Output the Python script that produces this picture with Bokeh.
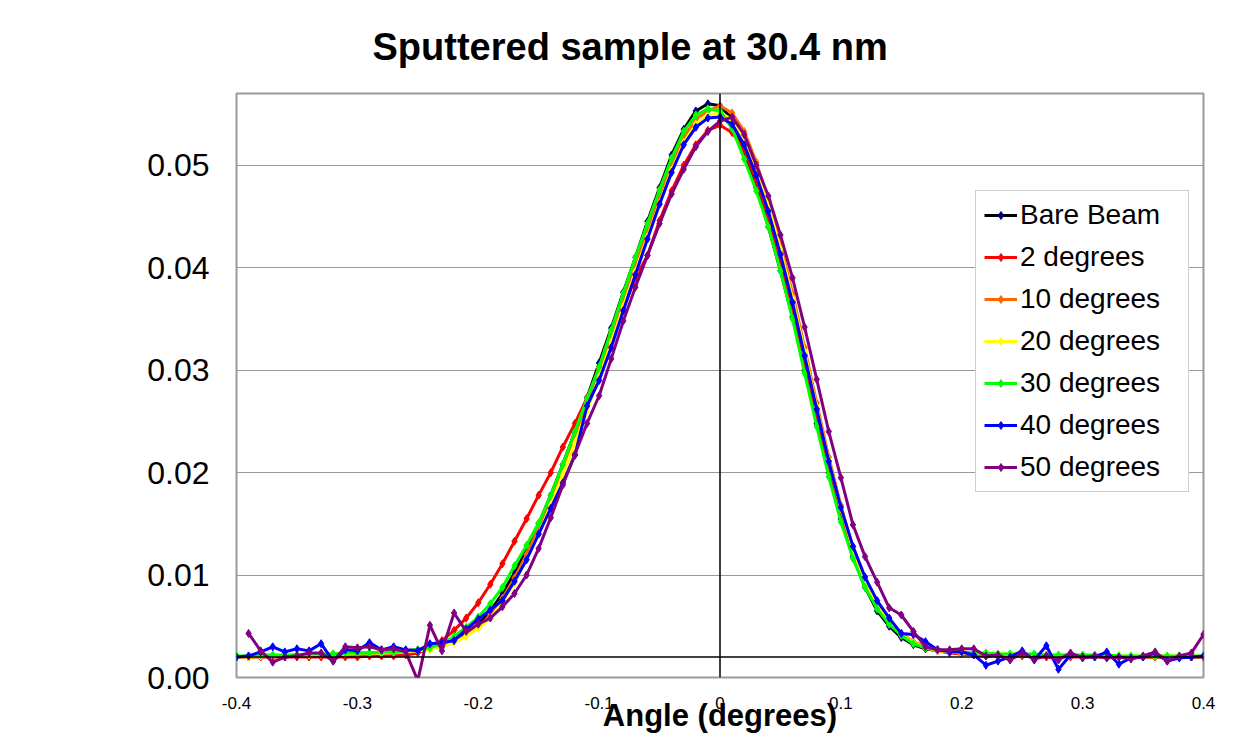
import numpy as np
from bokeh.plotting import figure
from bokeh.models import (Range1d, FixedTicker, NumeralTickFormatter,
                          Span, Legend, LegendItem, ColumnDataSource)
from bokeh.embed import file_html
from bokeh.resources import INLINE

angle = [-0.40, -0.39, -0.38, -0.37, -0.36, -0.35, -0.34, -0.33, -0.32, -0.31,
         -0.30, -0.29, -0.28, -0.27, -0.26, -0.25, -0.24, -0.23, -0.22, -0.21,
         -0.20, -0.19, -0.18, -0.17, -0.16, -0.15, -0.14, -0.13, -0.12, -0.11,
         -0.10, -0.09, -0.08, -0.07, -0.06, -0.05, -0.04, -0.03, -0.02, -0.01,
         0.00, 0.01, 0.02, 0.03, 0.04, 0.05, 0.06, 0.07, 0.08, 0.09,
         0.10, 0.11, 0.12, 0.13, 0.14, 0.15, 0.16, 0.17, 0.18, 0.19,
         0.20, 0.21, 0.22, 0.23, 0.24, 0.25, 0.26, 0.27, 0.28, 0.29,
         0.30, 0.31, 0.32, 0.33, 0.34, 0.35, 0.36, 0.37, 0.38, 0.39, 0.40]

bare_beam = [0.0020, 0.0020, 0.0021, 0.0021, 0.0021, 0.0022, 0.0022, 0.0022, 0.0023, 0.0023,
             0.0024, 0.0024, 0.0025, 0.0025, 0.0026, 0.0027, 0.0029, 0.0032, 0.0037, 0.0043,
             0.0052, 0.0065, 0.0082, 0.0102, 0.0125, 0.0150, 0.0178, 0.0208, 0.0240, 0.0273,
             0.0307, 0.0341, 0.0376, 0.0410, 0.0445, 0.0478, 0.0510, 0.0535, 0.0553, 0.0560,
             0.0558, 0.0545, 0.0513, 0.0478, 0.0440, 0.0397, 0.0352, 0.0300, 0.0248, 0.0200,
             0.0155, 0.0118, 0.0088, 0.0065, 0.0050, 0.0039, 0.0032, 0.0028, 0.0026, 0.0025,
             0.0024, 0.0023, 0.0023, 0.0022, 0.0022, 0.0022, 0.0022, 0.0021, 0.0021, 0.0021,
             0.0021, 0.0021, 0.0020, 0.0020, 0.0020, 0.0020, 0.0020, 0.0020, 0.0020, 0.0020, 0.0020]

deg2 = [0.0020, 0.0020, 0.0020, 0.0020, 0.0020, 0.0020, 0.0020, 0.0020, 0.0020, 0.0020,
        0.0020, 0.0021, 0.0021, 0.0021, 0.0022, 0.0024, 0.0029, 0.0036, 0.0046, 0.0058,
        0.0073, 0.0091, 0.0111, 0.0133, 0.0155, 0.0178, 0.0200, 0.0225, 0.0248, 0.0273,
        0.0300, 0.0330, 0.0360, 0.0390, 0.0412, 0.0446, 0.0475, 0.0500, 0.0520, 0.0534,
        0.0539, 0.0532, 0.0515, 0.0485, 0.0450, 0.0408, 0.0360, 0.0308, 0.0256, 0.0206,
        0.0160, 0.0122, 0.0092, 0.0069, 0.0053, 0.0042, 0.0034, 0.0029, 0.0026, 0.0024,
        0.0023, 0.0022, 0.0021, 0.0021, 0.0021, 0.0021, 0.0020, 0.0020, 0.0020, 0.0020,
        0.0020, 0.0020, 0.0020, 0.0020, 0.0020, 0.0020, 0.0020, 0.0020, 0.0020, 0.0020, 0.0020]

deg10 = [0.0020, 0.0021, 0.0021, 0.0021, 0.0021, 0.0022, 0.0022, 0.0022, 0.0022, 0.0023,
         0.0023, 0.0023, 0.0024, 0.0024, 0.0025, 0.0026, 0.0028, 0.0031, 0.0035, 0.0041,
         0.0049, 0.0061, 0.0077, 0.0097, 0.0120, 0.0146, 0.0174, 0.0204, 0.0236, 0.0269,
         0.0302, 0.0336, 0.0370, 0.0404, 0.0437, 0.0470, 0.0500, 0.0527, 0.0545, 0.0553,
         0.0558, 0.0551, 0.0533, 0.0503, 0.0466, 0.0423, 0.0375, 0.0322, 0.0268, 0.0215,
         0.0168, 0.0127, 0.0095, 0.0071, 0.0055, 0.0043, 0.0035, 0.0030, 0.0027, 0.0025,
         0.0024, 0.0023, 0.0023, 0.0022, 0.0022, 0.0022, 0.0021, 0.0021, 0.0021, 0.0021,
         0.0021, 0.0020, 0.0020, 0.0020, 0.0020, 0.0020, 0.0020, 0.0020, 0.0020, 0.0020, 0.0020]

deg20 = [0.0020, 0.0020, 0.0021, 0.0021, 0.0022, 0.0022, 0.0022, 0.0023, 0.0023, 0.0023,
         0.0024, 0.0024, 0.0024, 0.0025, 0.0025, 0.0026, 0.0027, 0.0030, 0.0034, 0.0040,
         0.0048, 0.0058, 0.0073, 0.0092, 0.0115, 0.0140, 0.0168, 0.0198, 0.0229, 0.0260,
         0.0293, 0.0327, 0.0362, 0.0396, 0.0430, 0.0463, 0.0495, 0.0522, 0.0540, 0.0549,
         0.0551, 0.0545, 0.0526, 0.0497, 0.0461, 0.0418, 0.0370, 0.0318, 0.0264, 0.0212,
         0.0165, 0.0125, 0.0093, 0.0070, 0.0054, 0.0042, 0.0034, 0.0029, 0.0026, 0.0025,
         0.0024, 0.0024, 0.0023, 0.0023, 0.0023, 0.0023, 0.0022, 0.0022, 0.0022, 0.0022,
         0.0022, 0.0022, 0.0021, 0.0021, 0.0021, 0.0021, 0.0021, 0.0021, 0.0021, 0.0021, 0.0021]

deg30 = [0.0021, 0.0021, 0.0022, 0.0022, 0.0022, 0.0022, 0.0023, 0.0023, 0.0023, 0.0024,
         0.0024, 0.0024, 0.0025, 0.0025, 0.0026, 0.0027, 0.0029, 0.0033, 0.0040, 0.0049,
         0.0059, 0.0072, 0.0088, 0.0109, 0.0129, 0.0151, 0.0178, 0.0208, 0.0240, 0.0272,
         0.0303, 0.0339, 0.0375, 0.0410, 0.0443, 0.0476, 0.0507, 0.0533, 0.0549, 0.0555,
         0.0553, 0.0536, 0.0506, 0.0475, 0.0440, 0.0397, 0.0350, 0.0297, 0.0245, 0.0196,
         0.0152, 0.0116, 0.0088, 0.0067, 0.0052, 0.0041, 0.0033, 0.0029, 0.0027, 0.0026,
         0.0025, 0.0024, 0.0024, 0.0023, 0.0023, 0.0023, 0.0023, 0.0022, 0.0022, 0.0022,
         0.0022, 0.0022, 0.0022, 0.0021, 0.0021, 0.0021, 0.0021, 0.0021, 0.0021, 0.0021, 0.0021]

deg40 = [0.0020, 0.0021, 0.0025, 0.0030, 0.0025, 0.0028, 0.0026, 0.0033, 0.0016, 0.0027,
         0.0026, 0.0034, 0.0027, 0.0030, 0.0027, 0.0026, 0.0033, 0.0034, 0.0036, 0.0047,
         0.0057, 0.0066, 0.0075, 0.0094, 0.0115, 0.0140, 0.0165, 0.0190, 0.0217, 0.0265,
         0.0290, 0.0322, 0.0358, 0.0393, 0.0428, 0.0462, 0.0493, 0.0520, 0.0537, 0.0546,
         0.0547, 0.0540, 0.0520, 0.0490, 0.0455, 0.0413, 0.0366, 0.0314, 0.0262, 0.0211,
         0.0166, 0.0128, 0.0098, 0.0075, 0.0058, 0.0043, 0.0042, 0.0035, 0.0027, 0.0025,
         0.0025, 0.0022, 0.0012, 0.0016, 0.0020, 0.0026, 0.0017, 0.0031, 0.0008, 0.0022,
         0.0020, 0.0020, 0.0025, 0.0013, 0.0019, 0.0020, 0.0024, 0.0016, 0.0019, 0.0020, 0.0021]

deg50 = [np.nan, 0.0043, 0.0026, 0.0015, 0.0020, 0.0021, 0.0024, 0.0024, 0.0016, 0.0030,
         0.0029, 0.0030, 0.0027, 0.0028, 0.0025, -0.0003, 0.0051, 0.0026, 0.0063, 0.0045,
         0.0052, 0.0058, 0.0069, 0.0082, 0.0100, 0.0126, 0.0156, 0.0188, 0.0218, 0.0248,
         0.0275, 0.0311, 0.0348, 0.0381, 0.0412, 0.0443, 0.0472, 0.0496, 0.0518, 0.0533,
         0.0543, 0.0547, 0.0530, 0.0500, 0.0470, 0.0432, 0.0390, 0.0342, 0.0291, 0.0240,
         0.0195, 0.0149, 0.0118, 0.0093, 0.0068, 0.0061, 0.0045, 0.0030, 0.0027, 0.0027,
         0.0028, 0.0028, 0.0021, 0.0022, 0.0017, 0.0024, 0.0018, 0.0021, 0.0017, 0.0024,
         0.0019, 0.0021, 0.0019, 0.0020, 0.0018, 0.0021, 0.0025, 0.0016, 0.0021, 0.0024, 0.0042]

series_names = ["Bare Beam", "2 degrees", "10 degrees", "20 degrees",
                "30 degrees", "40 degrees", "50 degrees"]
series_values = [bare_beam, deg2, deg10, deg20, deg30, deg40, deg50]
line_colors = ["#000000", "#FF0000", "#FF6600", "#FFFF00", "#00FF00", "#0000FF", "#800080"]
marker_colors = ["#000080", "#FF0000", "#FF6600", "#FFFF00", "#00FF00", "#0000FF", "#800080"]

x_ticks = [-0.4, -0.3, -0.2, -0.1, 0.0, 0.1, 0.2, 0.3, 0.4]
x_tick_labels = ["-0.4", "-0.3", "-0.2", "-0.1", "0", "0.1", "0.2", "0.3", "0.4"]
y_ticks = [0.0, 0.01, 0.02, 0.03, 0.04, 0.05]

FONT = "Liberation Sans"

p = figure(width=1223, height=737, output_backend="svg", toolbar_location=None,
           x_range=Range1d(-0.4, 0.4), y_range=Range1d(0, 0.057),
           min_border_left=236, min_border_right=20, min_border_top=93, min_border_bottom=60,
           background_fill_color="white", border_fill_color="white")

p.title.text = "Sputtered sample at 30.4 nm"
p.title.text_font = FONT
p.title.text_font_size = "38px"
p.title.text_font_style = "bold"
p.title.text_color = "black"
p.title.align = "left"
p.title.offset = 136
p.title.standoff = 48
p.title.vertical_align = "top"

p.outline_line_color = "#999999"
p.outline_line_width = 2

xa = p.xaxis[0]
xa.ticker = FixedTicker(ticks=x_ticks)
xa.major_label_overrides = {t: s for t, s in zip(x_ticks, x_tick_labels)}
xa.axis_line_color = None
xa.major_tick_line_color = None
xa.minor_tick_line_color = None
xa.major_tick_out = 0
xa.major_tick_in = 0
xa.major_label_standoff = 19
xa.major_label_text_font = FONT
xa.major_label_text_font_size = "17px"
xa.major_label_text_color = "black"
xa.axis_label = "Angle (degrees)"
xa.axis_label_text_font = FONT
xa.axis_label_text_font_size = "31px"
xa.axis_label_text_font_style = "bold"
xa.axis_label_text_color = "black"
xa.axis_label_standoff = -14

ya = p.yaxis[0]
ya.ticker = FixedTicker(ticks=y_ticks)
ya.formatter = NumeralTickFormatter(format="0.00")
ya.axis_line_color = None
ya.major_tick_line_color = None
ya.minor_tick_line_color = None
ya.major_tick_out = 0
ya.major_tick_in = 0
ya.major_label_standoff = 27
ya.major_label_text_font = FONT
ya.major_label_text_font_size = "32px"
ya.major_label_text_color = "black"

p.xgrid.grid_line_color = None
p.ygrid.grid_line_color = "#999999"
p.ygrid.grid_line_width = 1

# axis lines crossing inside the plot area
p.add_layout(Span(location=0.002, dimension="width", line_color="black", line_width=1.5))
p.add_layout(Span(location=0.0, dimension="height", line_color="black", line_width=1.5))

items = []
for name, vals, lc, mc in zip(series_names, series_values, line_colors, marker_colors):
    src = ColumnDataSource(dict(x=angle, y=vals))
    lr = p.line("x", "y", source=src, line_color=lc, line_width=3)
    sr = p.scatter("x", "y", source=src, marker="diamond", size=8,
                   fill_color=mc, line_color=mc)
    items.append(LegendItem(label=name, renderers=[lr, sr]))

legend = Legend(items=items, location=(739, 185), orientation="vertical",
                label_text_font=FONT, label_text_font_size="28px", label_text_color="black",
                glyph_width=33, glyph_height=20, label_standoff=3,
                padding=8, spacing=10, margin=0, label_width=160,
                border_line_color="#a0a0a0", border_line_width=1,
                background_fill_color="white", background_fill_alpha=1.0)
p.add_layout(legend, "center")

open("out.html", "w").write(file_html(p, INLINE))
